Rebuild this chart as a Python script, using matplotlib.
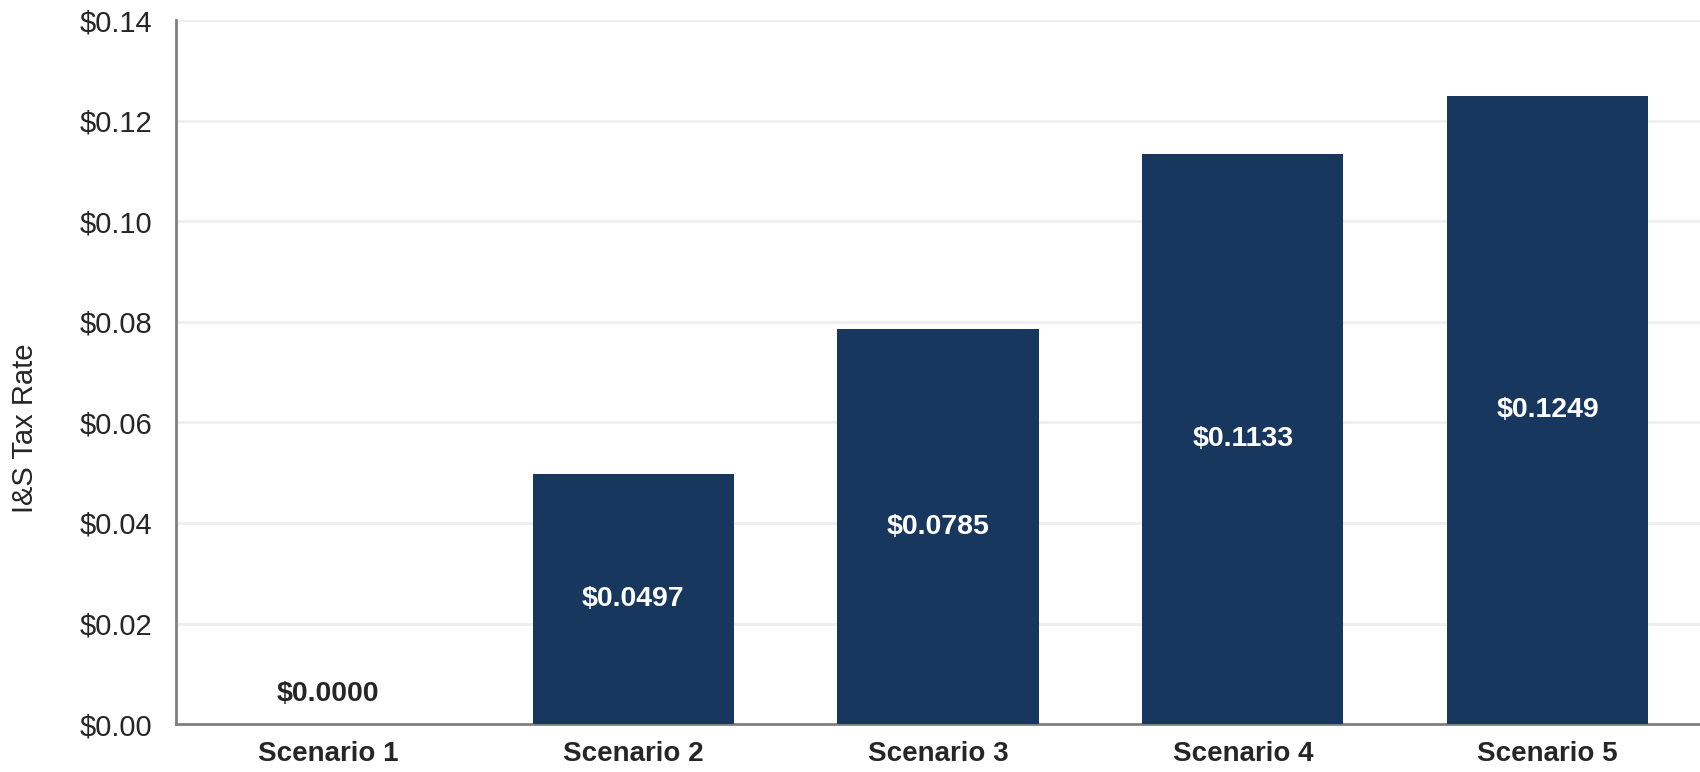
import numpy as np
import matplotlib.pyplot as plt

plt.rcParams['font.family'] = ['Liberation Sans', 'DejaVu Sans']

scenarios = ['Scenario 1', 'Scenario 2', 'Scenario 3', 'Scenario 4', 'Scenario 5']
rates = [0.0000, 0.0497, 0.0785, 0.1133, 0.1249]
yticks = [0.00, 0.02, 0.04, 0.06, 0.08, 0.10, 0.12, 0.14]

bar_color = '#17375E'
text_color = '#262626'

fig = plt.figure(figsize=(17, 7.72), dpi=100)
ax = fig.add_axes([0.1035, 0.062, 0.8965, 0.912])

x = np.arange(len(scenarios))
ax.bar(x, rates, width=0.66, color=bar_color, zorder=3)

for xi, v in zip(x, rates):
    if v > 0:
        ax.text(xi, v / 2, f'${v:.4f}', ha='center', va='center',
                color='white', fontsize=20.5, fontweight='bold', zorder=4)
    else:
        ax.annotate(f'${v:.4f}', (xi, v), xytext=(0, 22), textcoords='offset points',
                    ha='center', va='center', color=text_color,
                    fontsize=20.5, fontweight='bold')

ax.set_xlim(-0.5, len(scenarios) - 0.5)
ax.set_ylim(0, 0.14)
ax.set_yticks(yticks)
ax.set_yticklabels([f'${t:.2f}' for t in yticks], fontsize=21, color=text_color)
ax.set_xticks(x)
ax.set_xticklabels(scenarios, fontsize=20, fontweight='bold', color=text_color)
ax.tick_params(axis='y', length=0, pad=17)
ax.tick_params(axis='x', length=0, pad=12)
ax.set_ylabel('I&S Tax Rate', fontsize=21, color=text_color)
ax.yaxis.set_label_coords(-0.09, 0.42)

ax.grid(axis='y', color='#EFEFEF', linewidth=2, zorder=0)
ax.set_axisbelow(True)
for s in ['top', 'right']:
    ax.spines[s].set_visible(False)
for s in ['left', 'bottom']:
    ax.spines[s].set_color('#808080')
    ax.spines[s].set_linewidth(2)

fig.savefig('out.png', dpi=100)
